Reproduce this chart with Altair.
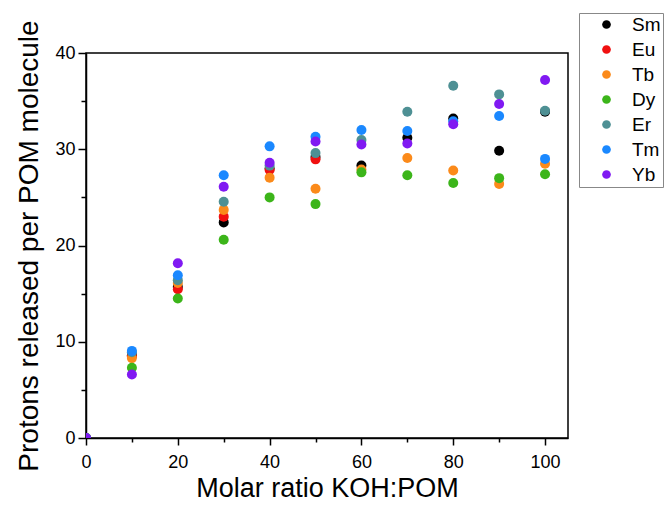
import altair as alt
import pandas as pd

ratio = [0, 10, 20, 30, 40, 50, 60, 70, 80, 90, 100]
series_names = ["Sm", "Eu", "Tb", "Dy", "Er", "Tm", "Yb"]
sm = [0, 8.6, 15.7, 22.4, 28.0, 29.2, 28.3, 31.2, 33.2, 29.85, 33.9]
eu = [0, 8.5, 15.45, 23.0, 27.85, 28.95]
tb = [0, 8.3, 16.1, 23.7, 27.05, 25.9, 27.9, 29.1, 27.8, 26.4, 28.5]
dy = [0, 7.3, 14.5, 20.6, 25.0, 24.3, 27.6, 27.3, 26.5, 27.0, 27.4]
er = [0, 8.9, 16.4, 24.55, 28.3, 29.6, 30.96, 33.9, 36.6, 35.7, 34.0]
tm = [0, 9.05, 16.9, 27.3, 30.3, 31.3, 32.0, 31.9, 32.9, 33.45, 29.0]
yb = [0, 6.6, 18.15, 26.1, 28.6, 30.8, 30.5, 30.6, 32.6, 34.7, 37.2]
colors = ["#000000", "#f01010", "#fb8a1a", "#3cb51a", "#4e9094", "#1a88ff", "#8019f2"]

rows = []
order = 0
for name, vals in zip(series_names, [sm, eu, tb, dy, er, tm, yb]):
    for x, v in zip(ratio, vals):
        rows.append({"ratio": x, "protons": v, "element": name, "ord": order})
        order += 1
df = pd.DataFrame(rows)

chart = alt.Chart(df).mark_circle(size=100, opacity=1, clip=True).encode(
    x=alt.X("ratio:Q", scale=alt.Scale(domain=[0, 105], nice=False, zero=False),
            axis=alt.Axis(title="Molar ratio KOH:POM", values=list(range(0, 101, 10)),
                          labelExpr="datum.value % 20 == 0 ? datum.label : ''",
                          tickSize={"condition": {"test": "datum.value % 20 == 0", "value": 7}, "value": 4},
                          labelFlush=False, labelPadding=8, titlePadding=4, titleFontSize=27)),
    y=alt.Y("protons:Q", scale=alt.Scale(domain=[0, 40], nice=False),
            axis=alt.Axis(title="Protons released per POM molecule", values=list(range(0, 41, 5)),
                          labelExpr="datum.value % 10 == 0 ? datum.label : ''",
                          tickSize={"condition": {"test": "datum.value % 10 == 0", "value": 8}, "value": 5},
                          labelFlush=False, labelPadding=3, titlePadding=11)),
    color=alt.Color("element:N", scale=alt.Scale(domain=series_names, range=colors),
                    legend=alt.Legend(title=None, orient="none", legendX=493, legendY=-40,
                                      symbolType="circle", symbolSize=75, symbolOffset=16,
                                      labelOffset=16, labelFontSize=19, labelFont="Liberation Sans",
                                      labelColor="black", rowPadding=5, padding=2,
                                      strokeColor="#888888")),
    order=alt.Order("ord:Q"),
).properties(
    width=482, height=385,
    autosize=alt.AutoSizeParams(type="none"),
    padding={"left": 78, "top": 45, "right": 96, "bottom": 65},
).configure_view(
    stroke="black", strokeWidth=1.5
).configure_axis(
    grid=False, domainColor="black", domainWidth=1.5, tickColor="black", tickWidth=1.5,
    labelFont="Liberation Sans", labelFontSize=18, labelColor="black",
    titleFont="Liberation Sans", titleFontSize=28, titleFontWeight="normal", titleColor="black",
)

chart.save("out.html", embed_options={"renderer": "svg", "actions": False})
